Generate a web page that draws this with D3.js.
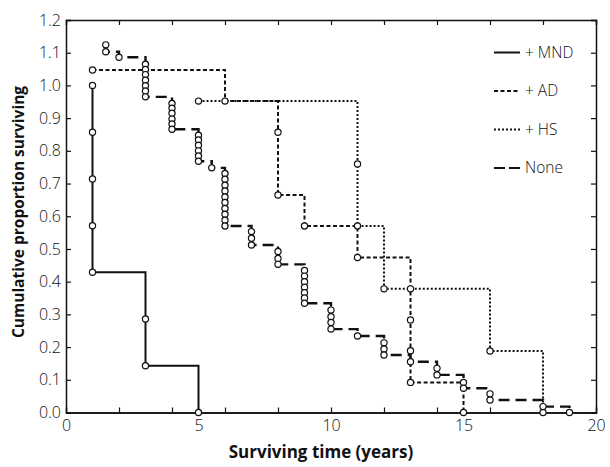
<!DOCTYPE html>
<html>
<head>
<meta charset="utf-8">
<script src="https://cdn.jsdelivr.net/npm/d3@7"></script>
<style>
  body { margin: 0; background: #fff; }
  text { font-family: "Open Sans", sans-serif; fill: #111; }
</style>
</head>
<body>
<script>
// chart values
var yTicks = [0, 0.1, 0.2, 0.3, 0.4, 0.5, 0.6, 0.7, 0.8, 0.9, 1.0, 1.1, 1.2];
var xLabels = [0, 5, 10, 15, 20];
var xTicks = [2, 4, 6, 8, 10, 12, 14, 16, 18];

// each series: event times, and the circle marks stacked at each time
var mndTime = [1, 3, 5];
var mndMarks = [[1.0, 0.857, 0.714, 0.571, 0.429], [0.286, 0.143], [0]];

var adTime = [1, 6, 8, 9, 11, 13, 15];
var adMarks = [[1.047], [0.952], [0.857, 0.665], [0.570], [0.474], [0.378, 0.283, 0.189, 0.092], [0]];

var hsTime = [5, 11, 12, 16, 18];
var hsMarks = [[0.952], [0.760, 0.570], [0.378], [0.188], [0]];

var noneTime = [1.5, 2, 3, 4, 5, 5.5, 6, 7, 8, 9, 10, 11, 12, 13, 14, 15, 16, 18, 19];
var noneMarks = [
  [1.124, 1.103],
  [1.086],
  [1.065, 1.049, 1.033, 1.016, 0.999, 0.983, 0.965],
  [0.945, 0.930, 0.915, 0.897, 0.882, 0.866],
  [0.848, 0.833, 0.817, 0.800, 0.784, 0.768],
  [0.748],
  [0.731, 0.713, 0.695, 0.677, 0.659, 0.642, 0.624, 0.606, 0.588, 0.570],
  [0.553, 0.533, 0.512],
  [0.492, 0.471, 0.453],
  [0.434, 0.417, 0.400, 0.383, 0.366, 0.350, 0.334],
  [0.313, 0.293, 0.275, 0.255],
  [0.234],
  [0.213, 0.194, 0.176],
  [0.155],
  [0.135, 0.115],
  [0.092, 0.074],
  [0.057, 0.038],
  [0.018],
  [0]
];

var legendLabels = ["+ MND", "+ AD", "+ HS", "None"];

var w = 610, h = 467;
var x = d3.scaleLinear().domain([0, 20]).range([66, 596]);
var y = d3.scaleLinear().domain([0, 1.2]).range([412.5, 20]);

var svg = d3.select("body").append("svg")
  .attr("width", w)
  .attr("height", h);

// axes, ticks point inward
var gx = svg.append("g")
  .attr("transform", "translate(0," + y(0) + ")")
  .call(d3.axisBottom(x).tickValues(xLabels).tickSize(0).tickPadding(7).tickFormat(d3.format("d")));
svg.append("g")
  .attr("transform", "translate(0," + y(0) + ")")
  .call(d3.axisBottom(x).tickValues(xTicks).tickSize(-5).tickFormat(""));
svg.append("g")
  .attr("transform", "translate(0," + y(1.2) + ")")
  .call(d3.axisTop(x).tickValues(xTicks).tickSize(-5).tickFormat(""));

var gy = svg.append("g")
  .attr("transform", "translate(" + x(0) + ",0)")
  .call(d3.axisLeft(y).tickValues(yTicks).tickSize(-5).tickPadding(5).tickFormat(d3.format(".1f")));
svg.append("g")
  .attr("transform", "translate(" + x(20) + ",0)")
  .call(d3.axisRight(y).tickValues(yTicks).tickSize(-5).tickFormat(""));

svg.selectAll(".domain").attr("stroke", "#111").attr("stroke-width", 1.5);
svg.selectAll(".tick line").attr("stroke", "#111").attr("stroke-width", 1.2);
svg.selectAll(".tick text")
  .attr("fill", "#222")
  .attr("font-size", "16px")
  .attr("font-weight", 300)
  .style("font-family", "'Open Sans', sans-serif");

svg.append("text")
  .attr("x", 321)
  .attr("y", 458)
  .attr("text-anchor", "middle")
  .attr("font-size", "17px")
  .attr("font-weight", "bold")
  .text("Surviving time (years)");

svg.append("text")
  .attr("transform", "translate(24,212) rotate(-90)")
  .attr("text-anchor", "middle")
  .attr("font-size", "15.5px")
  .attr("font-weight", "bold")
  .text("Cumulative proportion surviving");

var series = [
  {times: adTime, marks: adMarks, dash: "4,2.5", width: 2},
  {times: hsTime, marks: hsMarks, dash: "2,2", width: 2},
  {times: noneTime, marks: noneMarks, dash: "11,6", width: 2.4},
  {times: mndTime, marks: mndMarks, dash: null, width: 2}
];

var line = d3.line()
  .x(function(d) { return x(d[0]); })
  .y(function(d) { return y(d[1]); })
  .curve(d3.curveStepAfter);

series.forEach(function(s) {
  var pts = [[s.times[0], s.marks[0][0]]];
  s.times.forEach(function(t, i) {
    pts.push([t, s.marks[i][s.marks[i].length - 1]]);
  });
  svg.append("path")
    .datum(pts)
    .attr("d", line)
    .attr("fill", "none")
    .attr("stroke", "#111")
    .attr("stroke-width", s.width)
    .attr("stroke-dasharray", s.dash);
});

series.forEach(function(s) {
  var dots = [];
  s.times.forEach(function(t, i) {
    s.marks[i].forEach(function(v) { dots.push([t, v]); });
  });
  svg.append("g").selectAll("circle")
    .data(dots)
    .enter().append("circle")
    .attr("cx", function(d) { return x(d[0]); })
    .attr("cy", function(d) { return y(d[1]); })
    .attr("r", 3.1)
    .attr("fill", "#fff")
    .attr("stroke", "#111")
    .attr("stroke-width", 1.2);
});

// legend
var legendDash = [null, "4,2.5", "2,2", "11,4"];
var lg = svg.append("g").selectAll("g")
  .data(legendLabels)
  .enter().append("g")
  .attr("transform", function(d, i) { return "translate(494," + (52.5 + i * 38.5) + ")"; });
lg.append("line")
  .attr("x1", 0).attr("x2", 26)
  .attr("stroke", "#111")
  .attr("stroke-width", 2)
  .attr("stroke-dasharray", function(d, i) { return legendDash[i]; });
lg.append("text")
  .attr("x", 31)
  .attr("dy", "0.35em")
  .attr("font-size", "15.5px")
  .attr("font-weight", 300)
  .text(function(d) { return d; });
</script>
</body>
</html>
